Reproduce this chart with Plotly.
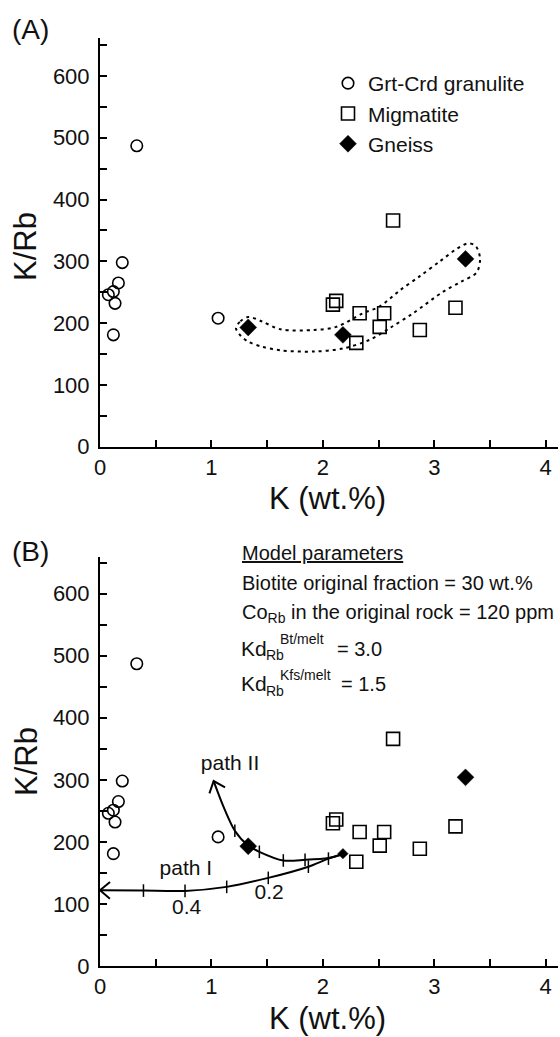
import numpy as np
import plotly.graph_objects as go

W, H = 560, 1037
FONT = "Liberation Sans, Arial, sans-serif"

# ---------------- data ----------------
gran_k = [0.33, 0.20, 0.165, 0.12, 0.075, 0.135, 0.12, 1.06]
gran_krb = [487, 298, 265, 251, 246, 232, 181, 208]
mig_k = [2.63, 2.12, 2.09, 2.33, 2.55, 2.51, 2.87, 3.19, 2.30]
mig_krb = [366, 236, 230, 216, 216, 194, 189, 225, 168]
gn_k = [1.33, 2.18, 3.28]
gn_krb = [193, 181, 304]

# dotted envelope around the gneiss trend (panel A)
env_k = [1.22, 1.26, 1.33, 1.45, 1.62, 1.92, 2.12, 2.36, 2.51, 2.69, 2.87, 3.05,
         3.20, 3.30, 3.37, 3.41, 3.38, 3.24, 3.08, 2.81, 2.60, 2.42, 2.18, 1.92,
         1.62, 1.45, 1.33, 1.26, 1.22]
env_krb = [192, 203, 210, 203, 190, 189, 194, 216, 227, 253, 276, 300,
           320, 329, 325, 305, 282, 267, 251, 216, 192, 173, 159, 154,
           156, 162, 170, 180, 192]

# melting model paths (panel B)
path1_k = [2.18, 2.05, 1.87, 1.51, 1.137, 0.763, 0.39, 0.0]
path1_krb = [180, 173, 160, 142, 127.5, 121, 121.5, 122]
path2_k = [2.18, 2.05, 1.84, 1.645, 1.43, 1.33, 1.21, 1.11, 1.02]
path2_krb = [180, 174, 171, 170, 184, 194, 218, 256, 298]
tick1_k = [2.05, 1.87, 1.51, 1.137, 0.763, 0.39]
tick1_krb = [173, 160, 142, 127.5, 121, 121.5]
tick2_k = [1.84, 1.645, 1.43, 1.21]
tick2_krb = [171, 170, 184, 218]

path_labels = ["path I", "path II", "0.4", "0.2"]
path_label_k = [0.77, 1.167, 0.778, 1.518]
path_label_krb = [155, 324, 93, 116]

x_ticks = [0, 1, 2, 3, 4]
y_ticks = [0, 100, 200, 300, 400, 500, 600]

# ---------------- geometry ----------------
X_DOM = [100 / W, 558 / W]
X_RANGE = [0, 4.11]
YA_DOM = [1 - 446.7 / H, 1 - 38 / H]
YA_RANGE = [0, 661.5]
YB_DOM = [1 - 966 / H, 1 - 557 / H]
YB_RANGE = [0, 659]


def px(x):
    return x / W


def py(y):
    return 1 - y / H


# scale (pixels per data unit) of panel B, used for arrow heads
SX = (X_DOM[1] - X_DOM[0]) * W / (X_RANGE[1] - X_RANGE[0])
SY = (YB_DOM[1] - YB_DOM[0]) * H / (YB_RANGE[1] - YB_RANGE[0])


def chevron(xs, ys, length=13, ang=40):
    tx, ty = xs[-1], ys[-1]
    dx = (tx - xs[-2]) * SX
    dy = (ty - ys[-2]) * SY
    n = np.hypot(dx, dy)
    bx, by = -dx / n, -dy / n
    out_x, out_y = [], []
    for s in (1, -1):
        a = np.radians(ang * s)
        rx = bx * np.cos(a) - by * np.sin(a)
        ry = bx * np.sin(a) + by * np.cos(a)
        out_x.append(tx + rx * length / SX)
        out_y.append(ty + ry * length / SY)
    return [out_x[0], tx, out_x[1]], [out_y[0], ty, out_y[1]]


fig = go.Figure()

circle = dict(symbol="circle-open", size=11.5, color="black", opacity=1, line=dict(width=1.6))
square = dict(symbol="square-open", size=13, color="black", opacity=1, line=dict(width=1.6))
diamond = dict(symbol="diamond", size=13, color="black", opacity=1,
               line=dict(width=0.5, color="black"))

# ---------------- panel A ----------------
fig.add_trace(go.Scatter(x=env_k, y=env_krb, mode="lines", xaxis="x", yaxis="y",
                         line=dict(color="black", width=2, dash="3px,4px", shape="spline", smoothing=0.9),
                         showlegend=False, hoverinfo="skip"))
fig.add_trace(go.Scatter(x=gran_k, y=gran_krb, mode="markers", name="Grt-Crd granulite",
                         xaxis="x", yaxis="y", marker=circle))
fig.add_trace(go.Scatter(x=mig_k, y=mig_krb, mode="markers", name="Migmatite",
                         xaxis="x", yaxis="y", marker=square))
fig.add_trace(go.Scatter(x=gn_k, y=gn_krb, mode="markers", name="Gneiss",
                         xaxis="x", yaxis="y", marker=diamond))

# ---------------- panel B ----------------
for pk, pr in ((path1_k, path1_krb), (path2_k, path2_krb)):
    fig.add_trace(go.Scatter(x=pk, y=pr, mode="lines", xaxis="x2", yaxis="y2",
                             line=dict(color="black", width=2, shape="spline", smoothing=0.8),
                             showlegend=False, hoverinfo="skip"))
    cx, cy = chevron(pk, pr)
    fig.add_trace(go.Scatter(x=cx, y=cy, mode="lines", xaxis="x2", yaxis="y2",
                             line=dict(color="black", width=2),
                             showlegend=False, hoverinfo="skip"))
fig.add_trace(go.Scatter(x=tick1_k + tick2_k, y=tick1_krb + tick2_krb, mode="markers",
                         xaxis="x2", yaxis="y2",
                         marker=dict(symbol="line-ns", size=9, color="black", opacity=1,
                                     line=dict(width=1.5, color="black")),
                         showlegend=False, hoverinfo="skip"))
fig.add_trace(go.Scatter(x=gran_k, y=gran_krb, mode="markers", xaxis="x2", yaxis="y2",
                         marker=circle, showlegend=False))
fig.add_trace(go.Scatter(x=mig_k, y=mig_krb, mode="markers", xaxis="x2", yaxis="y2",
                         marker=square, showlegend=False))
fig.add_trace(go.Scatter(x=gn_k, y=gn_krb, mode="markers", xaxis="x2", yaxis="y2",
                         marker=dict(diamond, size=[13, 8, 13]), showlegend=False))

fig.add_trace(go.Scatter(x=path_label_k, y=path_label_krb, mode="text", text=path_labels,
                         xaxis="x2", yaxis="y2", textfont=dict(size=21, color="#111", family=FONT),
                         showlegend=False, hoverinfo="skip"))

# ---------------- axes ----------------
common = dict(showline=True, linecolor="black", linewidth=2, ticks="inside", ticklen=7,
              tickwidth=1.5, tickcolor="black", showgrid=False, zeroline=False,
              tickfont=dict(size=22, color="#111", family=FONT), automargin=False)
xcfg = dict(common, domain=X_DOM, range=X_RANGE, tickvals=x_ticks,
            minor=dict(ticks="inside", ticklen=7, tickwidth=1.5, tickcolor="black", dtick=0.5, showgrid=False))
ycfg = dict(common, tickvals=y_ticks, ticklabelstandoff=4,
            minor=dict(ticks="inside", ticklen=7, tickwidth=1.5, tickcolor="black", dtick=50, showgrid=False))

fig.update_layout(
    width=W, height=H, margin=dict(l=0, r=0, t=0, b=0),
    paper_bgcolor="white", plot_bgcolor="white",
    font=dict(family=FONT, color="#111"),
    xaxis=dict(xcfg, anchor="y"),
    yaxis=dict(ycfg, domain=YA_DOM, range=YA_RANGE, anchor="x"),
    xaxis2=dict(xcfg, anchor="y2"),
    yaxis2=dict(ycfg, domain=YB_DOM, range=YB_RANGE, anchor="x2"),
    legend=dict(x=px(328), y=py(63), xanchor="left", yanchor="top",
                bgcolor="rgba(0,0,0,0)", font=dict(size=21, color="#111", family=FONT),
                tracegroupgap=0),
    showlegend=True,
)

ann = []


def add_text(text, x, y, size, xanchor="left", angle=0):
    ann.append(dict(text=text, x=px(x), y=py(y), xref="paper", yref="paper",
                    xanchor=xanchor, yanchor="middle", showarrow=False, textangle=angle,
                    font=dict(size=size, color="#111", family=FONT)))


add_text("(A)", 10, 30, 28)
add_text("(B)", 10, 551, 28)
add_text("K/Rb", 26, 247, 31, xanchor="center", angle=-90)
add_text("K/Rb", 26, 762, 31, xanchor="center", angle=-90)
add_text("K (wt.%)", 327, 498, 31, xanchor="center")
add_text("K (wt.%)", 327, 1018, 31, xanchor="center")

add_text("<u>Model parameters</u>", 240, 553, 20)
add_text("Biotite original fraction = 30 wt.%", 240, 583, 20)
add_text("Co<sub>Rb</sub> in the original rock = 120 ppm", 240, 613, 20)
add_text("Kd", 239, 648.5, 21)
add_text("Rb", 264, 655, 14)
add_text("Bt/melt", 278, 639, 14)
add_text("= 3.0", 335, 649, 20)
add_text("Kd", 239, 683.5, 21)
add_text("Rb", 264, 691, 14)
add_text("Kfs/melt", 278, 675, 14)
add_text("= 1.5", 339, 684, 20)

fig.update_layout(annotations=ann)

fig.write_html("out.html")
